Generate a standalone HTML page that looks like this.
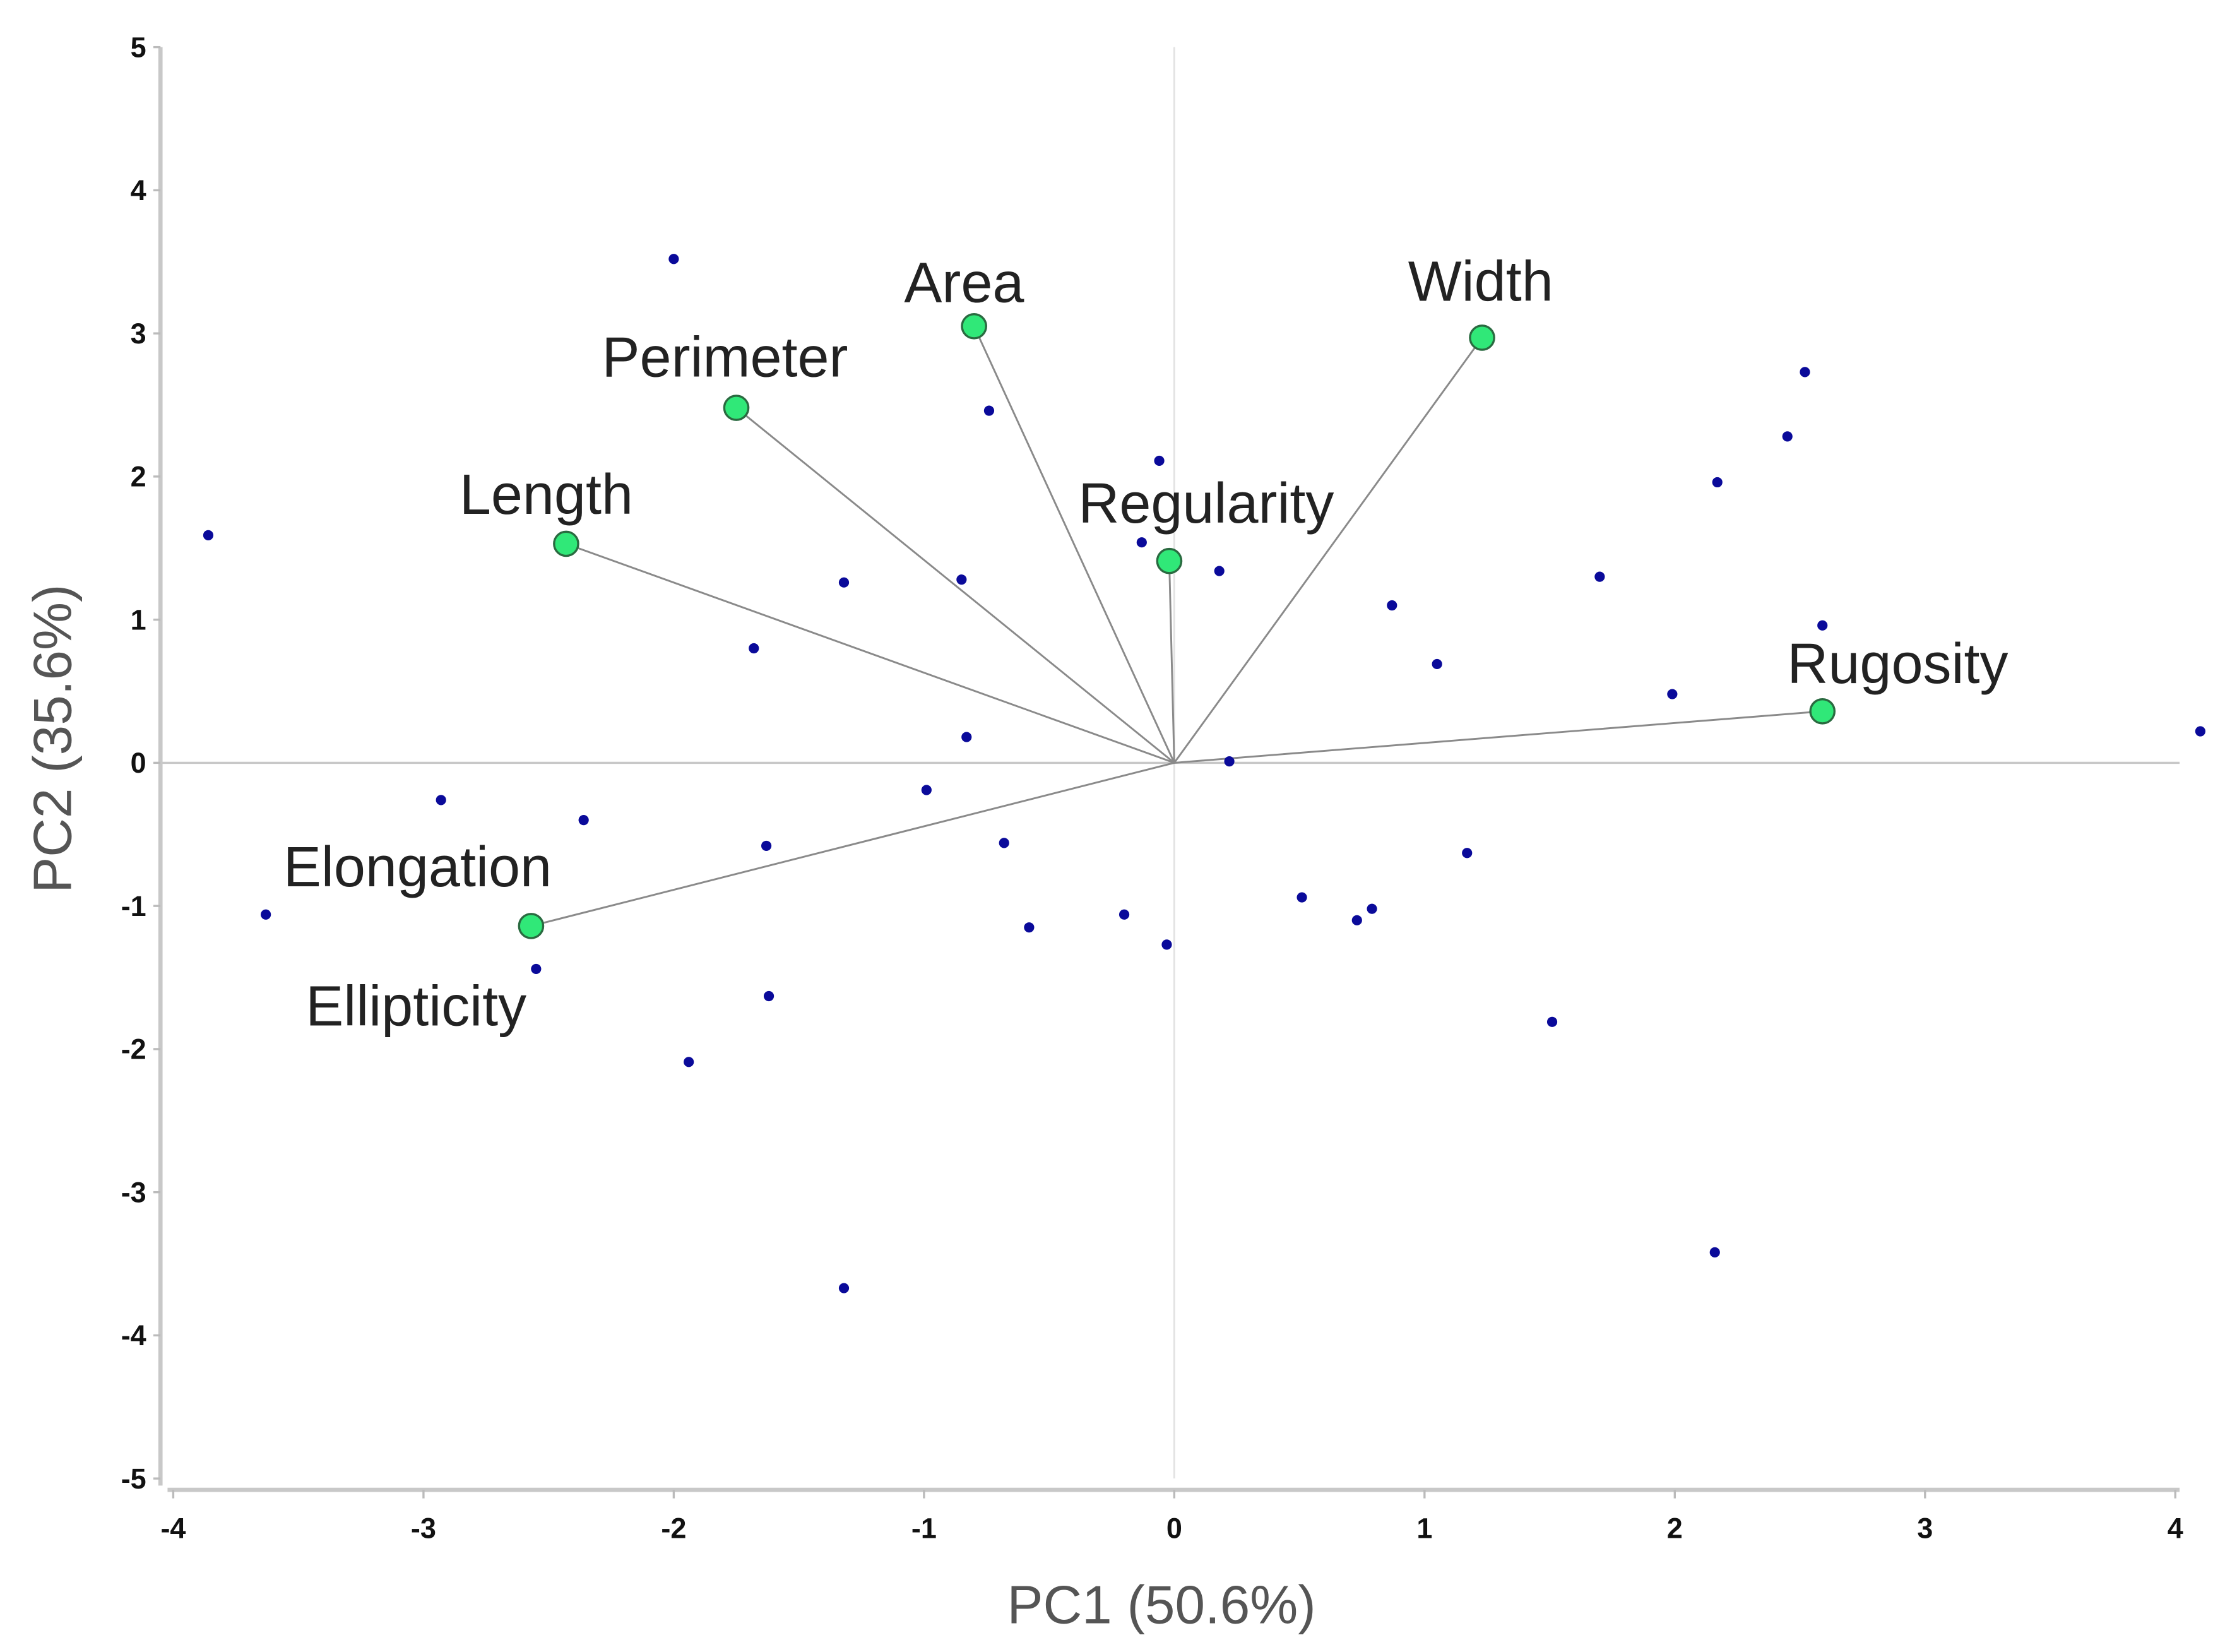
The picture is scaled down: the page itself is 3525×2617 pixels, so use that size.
<!DOCTYPE html>
<html><head><meta charset="utf-8"><style>
html,body{margin:0;padding:0;background:#fff;}
svg{display:block;}
text{font-family:"Liberation Sans","DejaVu Sans",sans-serif;}
</style></head><body>
<svg id="chart" width="3525" height="2617" viewBox="0 0 1567 1163" xmlns="http://www.w3.org/2000/svg">
<g id="axes"></g>
<g id="vectors"></g>
<g id="scores"></g>
<g id="vlabels"></g>
<text x="818" y="1143" font-size="38" fill="#555" text-anchor="middle">PC1 (50.6%)</text>
<text x="0" y="0" font-size="38" fill="#555" text-anchor="middle" transform="translate(50,520) rotate(-90)">PC2 (35.6%)</text>
</svg>
<script>
const xTicks = [-4,-3,-2,-1,0,1,2,3,4];
const yTicks = [5,4,3,2,1,0,-1,-2,-3,-4,-5];
const scoreX = [-3.86,-2.00,-0.74,-0.06,-0.13,0.18,-1.32,-0.85,-1.68,-0.83,-0.99,0.22,0.87,1.05,1.70,2.17,2.52,2.45,2.59,1.99,4.10,-2.93,-2.36,-1.63,-0.68,-3.63,-2.55,-1.62,-1.94,-0.58,-0.20,-0.03,0.51,0.73,0.79,1.17,1.51,-1.32,2.16];
const scoreY = [1.59,3.52,2.46,2.11,1.54,1.34,1.26,1.28,0.80,0.18,-0.19,0.01,1.10,0.69,1.30,1.96,2.73,2.28,0.96,0.48,0.22,-0.26,-0.40,-0.58,-0.56,-1.06,-1.44,-1.63,-2.09,-1.15,-1.06,-1.27,-0.94,-1.10,-1.02,-0.63,-1.81,-3.67,-3.42];
const varNames = ["Area","Perimeter","Length","Width","Regularity","Rugosity","Elongation"];
const varX = [-0.80,-1.75,-2.43,1.23,-0.02,2.59,-2.57];
const varY = [3.05,2.48,1.53,2.97,1.41,0.36,-1.14];

const NS="http://www.w3.org/2000/svg";
const sx = v => 827 + v*176.25;
const sy = v => 537 - v*100.8;
function mk(tag, attrs, parent){const e=document.createElementNS(NS,tag);for(const k in attrs)e.setAttribute(k,attrs[k]);parent.appendChild(e);return e;}
const axes=document.getElementById('axes');
let e;
e=mk('line',{x1:113,y1:sy(5),x2:113,y2:sy(-5)+5,stroke:'#c8c8c8','stroke-width':3},axes);


e=mk('line',{x1:118,y1:1049,x2:1535,y2:1049,stroke:'#c8c8c8','stroke-width':3},axes);


e=mk('line',{x1:sx(0),y1:sy(5),x2:sx(0),y2:sy(-5),stroke:'#e2e2e2','stroke-width':1.2},axes);


e=mk('line',{x1:113,y1:sy(0),x2:1535,y2:sy(0),stroke:'#c8c8c8','stroke-width':1.5},axes);


xTicks.forEach(t=>{
  const l=mk('line',{x1:sx(t),y1:1049,x2:sx(t),y2:1055,stroke:'#bbb','stroke-width':1.5},axes);
  
  
  const tx=mk('text',{x:sx(t),y:1083,'font-size':20,'font-weight':'bold','text-anchor':'middle',fill:'#111'},axes);
  tx.textContent=t<0?('-'+(-t)):String(t);
  
  
});
yTicks.forEach(t=>{
  const l=mk('line',{x1:108,y1:sy(t),x2:113,y2:sy(t),stroke:'#bbb','stroke-width':1.5},axes);
  
  
  const tx=mk('text',{x:103,y:sy(t)+7,'font-size':20,'font-weight':'bold','text-anchor':'end',fill:'#111'},axes);
  tx.textContent=t<0?('-'+(-t)):String(t);
  
  
});
const vec=document.getElementById('vectors');
varNames.forEach((n,i)=>{
  const l=mk('line',{x1:sx(0),y1:sy(0),x2:sx(varX[i]),y2:sy(varY[i]),stroke:'#8a8a8a','stroke-width':1.3},vec);
  
  
});
const sc=document.getElementById('scores');
scoreX.forEach((x,i)=>{
  const c=mk('circle',{cx:sx(x),cy:sy(scoreY[i]),r:3.6,fill:'#0a0a9a'},sc);
  
  
});
varNames.forEach((n,i)=>{
  const c=mk('circle',{cx:sx(varX[i]),cy:sy(varY[i]),r:8.5,fill:'#30e878',stroke:'#2a6a40','stroke-width':1.5},vec);
  
  
});
// label offsets relative to each variable point (layout, not data)
const lbl=document.getElementById('vlabels');
const labelDefs=[["Area",-7,-17],["Perimeter",-8,-22],["Length",-14,-21],["Width",-1,-26],["Regularity",26,-27],["Rugosity",53,-20],["Elongation",-80,-28],["Ellipticity",-81,70]];
labelDefs.forEach((d,k)=>{
  const i=Math.min(k,6);
  const t=mk('text',{x:sx(varX[i])+d[1],y:sy(varY[i])+d[2],'font-size':40,'text-anchor':'middle',fill:'#222'},lbl);
  t.textContent=d[0];
  
  
});
</script>
</body></html>
